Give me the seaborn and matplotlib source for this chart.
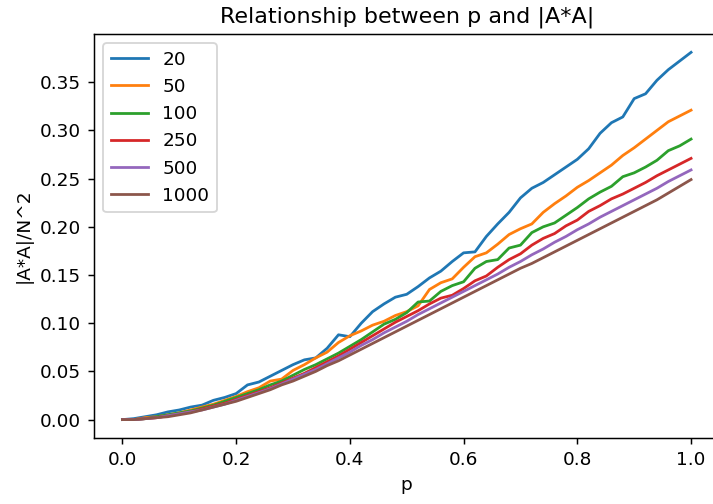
import numpy as np
import pandas as pd
import seaborn as sns
import matplotlib.pyplot as plt

# p sampled in steps of 0.02
p = [round(0.02 * i, 2) for i in range(51)]
sizes = ['20', '50', '100', '250', '500', '1000']

n20 = [0.000, 0.001, 0.003, 0.005, 0.008, 0.010, 0.013, 0.015, 0.020, 0.023,
       0.027, 0.036, 0.039, 0.045, 0.051, 0.057, 0.062, 0.064, 0.074, 0.088,
       0.086, 0.100, 0.112, 0.120, 0.127, 0.130, 0.138, 0.147, 0.154, 0.164,
       0.173, 0.174, 0.190, 0.203, 0.215, 0.230, 0.240, 0.246, 0.254, 0.262,
       0.270, 0.281, 0.297, 0.308, 0.314, 0.333, 0.338, 0.352, 0.363, 0.372,
       0.381]
n50 = [0.000, 0.000, 0.002, 0.003, 0.005, 0.007, 0.010, 0.013, 0.016, 0.020,
       0.024, 0.029, 0.033, 0.040, 0.042, 0.051, 0.057, 0.064, 0.070, 0.080,
       0.087, 0.092, 0.098, 0.102, 0.108, 0.112, 0.118, 0.135, 0.142, 0.146,
       0.158, 0.169, 0.173, 0.182, 0.192, 0.198, 0.203, 0.215, 0.224, 0.232,
       0.241, 0.248, 0.256, 0.264, 0.274, 0.282, 0.291, 0.300, 0.309, 0.315,
       0.321]
n100 = [0.000, 0.000, 0.001, 0.003, 0.005, 0.007, 0.009, 0.012, 0.015, 0.019,
        0.023, 0.027, 0.031, 0.036, 0.040, 0.046, 0.052, 0.057, 0.063, 0.069,
        0.076, 0.083, 0.091, 0.099, 0.104, 0.111, 0.122, 0.123, 0.133, 0.139,
        0.143, 0.157, 0.164, 0.166, 0.178, 0.181, 0.194, 0.200, 0.204, 0.212,
        0.220, 0.229, 0.236, 0.242, 0.252, 0.256, 0.262, 0.269, 0.279, 0.284,
        0.291]
n250 = [0.000, 0.000, 0.001, 0.002, 0.004, 0.006, 0.008, 0.011, 0.014, 0.017,
        0.021, 0.025, 0.029, 0.033, 0.038, 0.043, 0.048, 0.054, 0.060, 0.066,
        0.073, 0.080, 0.087, 0.094, 0.101, 0.107, 0.113, 0.120, 0.126, 0.129,
        0.136, 0.144, 0.149, 0.158, 0.166, 0.172, 0.181, 0.188, 0.193, 0.201,
        0.207, 0.216, 0.222, 0.229, 0.234, 0.240, 0.246, 0.253, 0.259, 0.265,
        0.271]
n500 = [0.000, 0.000, 0.001, 0.002, 0.004, 0.006, 0.008, 0.010, 0.013, 0.016,
        0.020, 0.024, 0.028, 0.032, 0.037, 0.042, 0.047, 0.052, 0.058, 0.064,
        0.070, 0.077, 0.083, 0.090, 0.096, 0.102, 0.109, 0.115, 0.121, 0.127,
        0.133, 0.139, 0.145, 0.151, 0.158, 0.164, 0.171, 0.177, 0.184, 0.190,
        0.197, 0.203, 0.210, 0.216, 0.222, 0.228, 0.234, 0.240, 0.247, 0.253,
        0.259]
n1000 = [0.000, 0.000, 0.001, 0.002, 0.003, 0.005, 0.007, 0.010, 0.013, 0.016,
         0.019, 0.023, 0.027, 0.031, 0.036, 0.040, 0.045, 0.050, 0.056, 0.061,
         0.067, 0.073, 0.079, 0.085, 0.091, 0.097, 0.103, 0.109, 0.115, 0.121,
         0.127, 0.133, 0.139, 0.145, 0.151, 0.157, 0.162, 0.168, 0.174, 0.180,
         0.186, 0.192, 0.198, 0.204, 0.210, 0.216, 0.222, 0.228, 0.235, 0.242,
         0.249]

series = [n20, n50, n100, n250, n500, n1000]
df = pd.concat([pd.DataFrame({'p': p, 'ratio': vals, 'N': name})
                for name, vals in zip(sizes, series)], ignore_index=True)

# screenshot was scaled up ~1.33x, so render at a higher dpi
dpi = 133.3
fig = plt.figure(figsize=(713 / dpi, 504 / dpi), dpi=dpi)
ax = fig.add_axes([0.1318, 0.131, 0.8773, 0.8016])
sns.lineplot(data=df, x='p', y='ratio', hue='N', hue_order=sizes,
             palette='tab10', ax=ax, linewidth=1.5)
ax.legend(loc='upper left')
ax.set_yticks(np.arange(0, 0.36, 0.05))
ax.set_title('Relationship between p and |A*A|', fontsize=12)
ax.set_xlabel('p')
ax.set_ylabel('|A*A|/N^2')
fig.savefig('out.png', dpi=dpi)
